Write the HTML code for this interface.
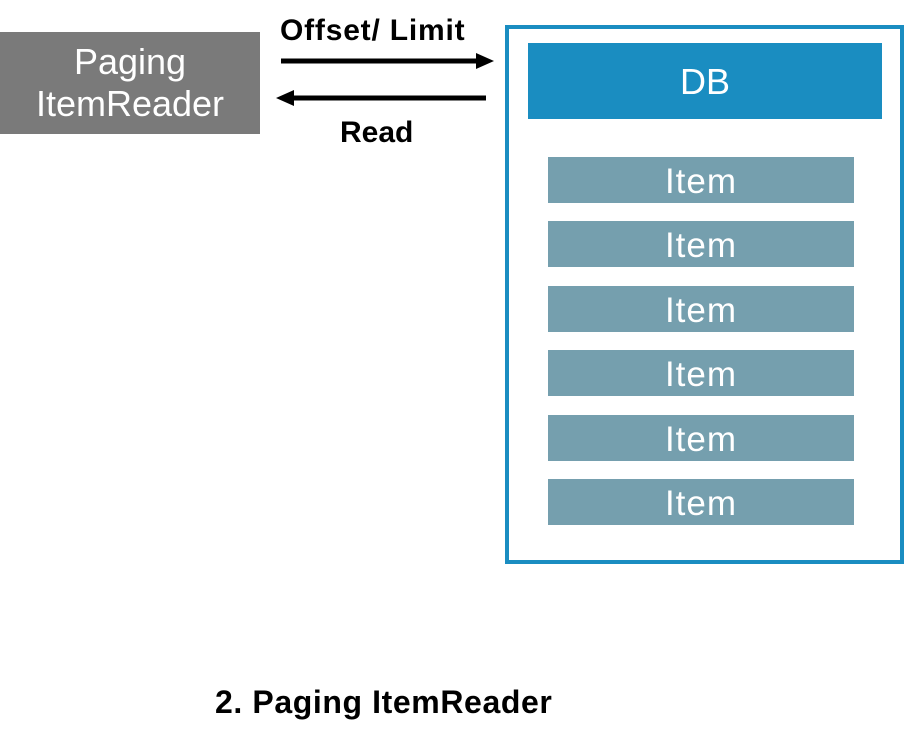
<!DOCTYPE html>
<html><head><style>
body{margin:0;width:905px;height:743px;background:#fff;position:relative;font-family:"Liberation Sans","Noto Sans CJK KR",sans-serif;overflow:hidden}
.a{position:absolute}
.item{position:absolute;left:548px;width:306px;height:46px;background:#759fae;color:#fff;font-size:35px;letter-spacing:1px;line-height:50px;text-align:center}
</style></head><body>
<div class="a" style="left:0;top:32px;width:260px;height:102px;background:#7a7a7a;color:#fff;font-size:36px;line-height:42px;text-align:center;padding-top:9px;box-sizing:border-box">Paging<br>ItemReader</div>
<div class="a" style="left:280px;top:14px;font-weight:bold;font-size:30px;letter-spacing:0.8px">Offset/ Limit</div>
<div class="a" style="left:340px;top:116px;font-weight:bold;font-size:30px">Read</div>
<svg class="a" style="left:0;top:0" width="905" height="743">
<line x1="281" y1="61" x2="478" y2="61" stroke="#000" stroke-width="5"/>
<polygon points="476,53 494,61 476,69" fill="#000"/>
<line x1="292" y1="98" x2="486" y2="98" stroke="#000" stroke-width="5"/>
<polygon points="294,90 276,98 294,106" fill="#000"/>
</svg>
<div class="a" style="left:505px;top:25px;width:399px;height:539px;border:4px solid #1a8dc1;box-sizing:border-box"></div>
<div class="a" style="left:528px;top:43px;width:354px;height:76px;background:#1a8dc1;color:#fff;font-size:36px;line-height:78px;text-align:center">DB</div>
<div class="item" style="top:157px">Item</div>
<div class="item" style="top:221px">Item</div>
<div class="item" style="top:286px">Item</div>
<div class="item" style="top:350px">Item</div>
<div class="item" style="top:415px">Item</div>
<div class="item" style="top:479px">Item</div>
<div class="a" style="left:215px;top:684px;font-weight:bold;font-size:32px;letter-spacing:0.6px">2. Paging ItemReader</div>
</body></html>
